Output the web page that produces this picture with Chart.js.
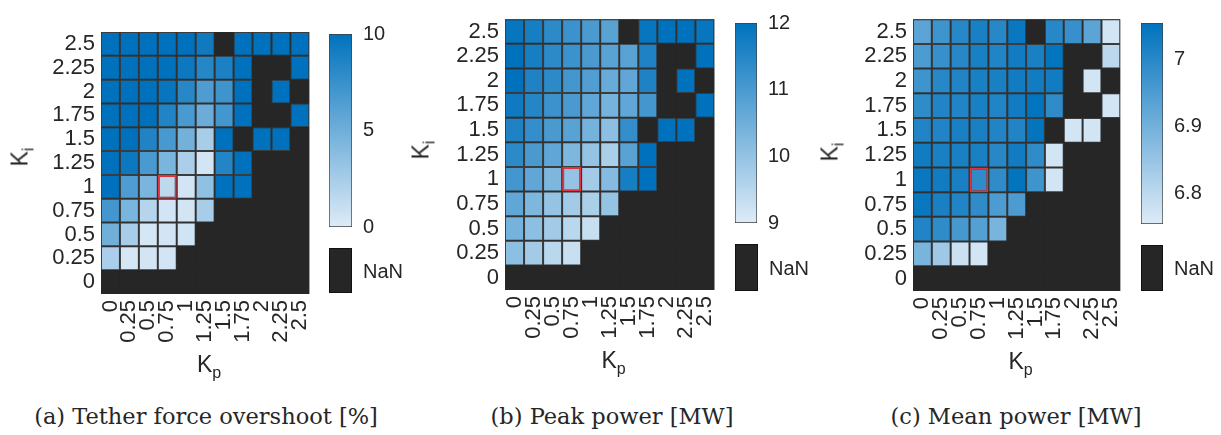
<!DOCTYPE html>
<html>
<head>
<meta charset="utf-8">
<script src="https://cdn.jsdelivr.net/npm/chart.js@4.4.0/dist/chart.umd.min.js"></script>
<style>
    body { margin: 0; background: #fff; width: 1221px; height: 435px; position: relative; overflow: hidden;
           font-family: "Liberation Sans", Arial, sans-serif; color: #262626; }
    canvas { position: absolute; }
    .lbl { position: absolute; font-size: 23px; line-height: 1; white-space: nowrap; }
    .lbl sub { font-size: 16px; line-height: 0; vertical-align: -6px; }
    .ki { transform: translate(-50%, -50%) rotate(-90deg); }
    .kp { transform: translateX(-50%); }
    .cap { position: absolute; font-family: "DejaVu Serif", serif; font-size: 22.5px; line-height: 1;
           white-space: nowrap; transform: translateX(-50%); }
    .nan { position: absolute; background: #262626; border: 1px solid #111; box-sizing: border-box; }
    .nanl { position: absolute; font-size: 20px; line-height: 1; transform: translateY(-50%); }
</style>
</head>
<body>
<script>
// grid axes
const kpLabels = ['0', '0.25', '0.5', '0.75', '1', '1.25', '1.5', '1.75', '2', '2.25', '2.5'];
const kiLabels = ['0', '0.25', '0.5', '0.75', '1', '1.25', '1.5', '1.75', '2', '2.25', '2.5'];

// rows go from Ki = 0 (first) up to Ki = 2.5 (last), null = NaN
const overshoot = [
    [null, null, null, null, null, null, null, null, null, null, null],
    [2.3, 0.4, 0.5, 0.5, null, null, null, null, null, null, null],
    [5, 2.5, 0.4, 0.5, 0.6, null, null, null, null, null, null],
    [7, 4.5, 1.8, 0.5, 0.5, 2.5, null, null, null, null, null],
    [10, 6.5, 4.5, 1.5, 0.5, 3.5, 10, 10, null, null, null],
    [10, 9.5, 6.7, 4.5, 2.3, 0.5, 8.4, 10, null, null, null],
    [10, 10, 8.6, 6.8, 4.8, 2.5, 10, null, 10, 10, null],
    [10, 10, 10, 8.5, 6.7, 5.2, 7, 10, null, null, 10],
    [10, 10, 10, 9.7, 8.2, 6.5, 7.2, 10, null, 10, null],
    [10, 10, 10, 10, 9.5, 8.3, 8.8, 10, null, null, 10],
    [10, 10, 10, 10, 10, 9.3, null, 10, 10, 10, 10]
];

const peakPower = [
    [null, null, null, null, null, null, null, null, null, null, null],
    [10.1, 9.8, 9.5, 9.3, null, null, null, null, null, null, null],
    [10.4, 10.1, 9.8, 9.5, 9.3, null, null, null, null, null, null],
    [10.7, 10.3, 10.0, 9.8, 9.7, 10.0, null, null, null, null, null],
    [11.1, 10.7, 10.3, 10.0, 9.8, 10.2, 11.7, 12, null, null, null],
    [11.4, 11.0, 10.7, 10.3, 10.0, 9.7, 10.8, 12, null, null, null],
    [11.6, 11.3, 11.0, 10.8, 10.4, 10.1, 11.3, null, 12, 12, null],
    [11.8, 11.5, 11.2, 11.0, 10.7, 10.4, 10.7, 11.1, null, null, 12],
    [12, 11.6, 11.4, 11.1, 10.9, 10.6, 10.7, 11.6, null, 12, null],
    [12, 11.7, 11.4, 11.2, 11.0, 10.8, 10.8, 11.6, null, null, 12],
    [11.9, 11.7, 11.4, 11.2, 11.0, 10.8, null, 11.9, 12, 12, 11.9]
];

const meanPower = [
    [null, null, null, null, null, null, null, null, null, null, null],
    [6.89, 6.84, 6.78, 6.77, null, null, null, null, null, null, null],
    [7.01, 6.99, 6.96, 6.94, 6.89, null, null, null, null, null, null],
    [7.04, 7.02, 7.01, 6.99, 6.95, 6.95, null, null, null, null, null],
    [7.04, 7.03, 7.02, 6.99, 6.99, 7.05, 6.97, 6.77, null, null, null],
    [7.03, 7.02, 7.02, 7.02, 7.0, 7.03, 6.99, 6.77, null, null, null],
    [7.01, 7.01, 7.02, 7.02, 7.01, 7.01, 7.05, null, 6.77, 6.77, null],
    [6.99, 7.01, 7.01, 7.02, 7.01, 7.03, 7.05, 6.99, null, null, 6.77],
    [6.97, 7.0, 7.01, 7.02, 7.02, 7.03, 7.03, 7.03, null, 6.77, null],
    [6.95, 6.98, 7.0, 7.02, 7.01, 7.03, 7.02, 7.05, null, null, 6.80],
    [6.93, 6.97, 7.0, 7.02, 7.0, 7.04, null, 7.0, 6.98, 6.93, 6.77]
];

// colour limits and colorbar ticks
const overshootRange = [0, 10];
const peakRange = [9, 12];
const meanRange = [6.754, 7.054];
const overshootTicks = [0, 5, 10];
const peakTicks = [9, 10, 11, 12];
const meanTicks = [6.8, 6.9, 7];

// marked cell
const markKp = '0.75';
const markKi = '1';

const LIGHT = [222, 235, 247];
const DARK = [0, 114, 189];
const NAN_COLOR = '#262626';
const EDGE = '#3c3c3c';
const RED = '#e3323c';
const TXT = '#262626';
const FONT = 'Liberation Sans';

const panels = [
    { values: overshoot, range: overshootRange, ticks: overshootTicks, caption: '(a) Tether force overshoot [%]',
      area: [101, 32, 317, 294], bar: [329, 34, 352, 230], nan: [329, 248, 352, 293], ki: [20, 157], capX: 206 },
    { values: peakPower, range: peakRange, ticks: peakTicks, caption: '(b) Peak power [MW]',
      area: [505, 16, 722, 290], bar: [735, 17, 757, 226], nan: [735, 244, 758, 291], ki: [421, 150], capX: 612 },
    { values: meanPower, range: meanRange, ticks: meanTicks, caption: '(c) Mean power [MW]',
      area: [913, 18, 1128, 291], bar: [1141, 20, 1163, 227], nan: [1141, 245, 1163, 291], ki: [830, 152], capX: 1016 }
];

function rgb(c) {
    return 'rgb(' + c.join(',') + ')';
}

function cellColor(v, lo, hi) {
    if (v === null) return NAN_COLOR;
    let t = (v - lo) / (hi - lo);
    t = Math.min(1, Math.max(0, t));
    return rgb(LIGHT.map((l, i) => Math.round(l + (DARK[i] - l) * t)));
}

function addEl(tag, cls, html, style) {
    const el = document.createElement(tag);
    if (cls) el.className = cls;
    if (html) el.innerHTML = html;
    Object.assign(el.style, style);
    document.body.appendChild(el);
    return el;
}

function addCanvas(left, top, w, h) {
    const c = document.createElement('canvas');
    c.width = w;
    c.height = h;
    c.style.left = left + 'px';
    c.style.top = top + 'px';
    document.body.appendChild(c);
    return c;
}

// dark backdrop under the cells so seams between NaN cells don't show
const nanBackdrop = {
    id: 'nanBackdrop',
    beforeDatasetsDraw(chart) {
        const a = chart.chartArea;
        chart.ctx.save();
        chart.ctx.fillStyle = NAN_COLOR;
        chart.ctx.fillRect(a.left, a.top, a.right - a.left, a.bottom - a.top);
        chart.ctx.restore();
    }
};

const Y_W = 70, X_H = 60, PAD_R = 16;

panels.forEach(function (p) {
    const [l, t, r, b] = p.area;
    const [lo, hi] = p.range;

    // heatmap: one floating bar per cell, one dataset per Ki row
    const hc = addCanvas(l - Y_W, 0, Y_W + (r - l) + PAD_R, b + X_H);
    const datasets = kiLabels.map(function (ki, row) {
        const marked = kpLabels.map(kp => kp === markKp && ki === markKi);
        return {
            data: kpLabels.map(() => [row, row + 1]),
            backgroundColor: p.values[row].map(v => cellColor(v, lo, hi)),
            borderColor: p.values[row].map((v, c) => marked[c] ? RED : EDGE),
            borderWidth: p.values[row].map((v, c) => marked[c] ? 2 : (v === null ? 0 : 1)),
            borderSkipped: false,
            inflateAmount: 0,
            barPercentage: 1,
            categoryPercentage: 1
        };
    });

    new Chart(hc, {
        type: 'bar',
        data: { labels: kpLabels, datasets: datasets },
        plugins: [nanBackdrop],
        options: {
            responsive: false,
            animation: false,
            events: [],
            layout: { padding: { top: t, right: PAD_R, bottom: 0, left: 0 } },
            plugins: { legend: { display: false }, tooltip: { enabled: false } },
            scales: {
                x: {
                    stacked: true,
                    grid: { display: false, drawTicks: false },
                    border: { display: false },
                    ticks: { autoSkip: false, minRotation: 90, maxRotation: 90, padding: 6,
                             color: TXT, font: { family: FONT, size: 22 } },
                    afterFit: s => { s.height = X_H; }
                },
                y: {
                    stacked: false,
                    min: 0,
                    max: kiLabels.length,
                    grid: { display: false, drawTicks: false },
                    border: { display: false },
                    afterBuildTicks: s => { s.ticks = kiLabels.map((k, i) => ({ value: i + 0.5 })); },
                    ticks: { autoSkip: false, padding: 6, color: TXT, font: { family: FONT, size: 22 },
                             callback: (v, i) => kiLabels[i] },
                    afterFit: s => { s.width = Y_W; }
                }
            }
        }
    });

    // colorbar
    const [bl, bt, br, bb] = p.bar;
    const cc = addCanvas(bl, 0, (br - bl) + 60, bb + 20);
    new Chart(cc, {
        type: 'bar',
        data: {
            labels: [''],
            datasets: [{
                data: [[lo, hi]],
                backgroundColor: function (ctx) {
                    const a = ctx.chart.chartArea;
                    if (!a) return rgb(LIGHT);
                    const g = ctx.chart.ctx.createLinearGradient(0, a.bottom, 0, a.top);
                    g.addColorStop(0, rgb(LIGHT));
                    g.addColorStop(1, rgb(DARK));
                    return g;
                },
                borderColor: '#404040',
                borderWidth: 1,
                borderSkipped: false,
                barPercentage: 1,
                categoryPercentage: 1
            }]
        },
        options: {
            responsive: false,
            animation: false,
            events: [],
            layout: { padding: { top: bt, right: 0, bottom: 20, left: 0 } },
            plugins: { legend: { display: false }, tooltip: { enabled: false } },
            scales: {
                x: { display: false },
                y: {
                    position: 'right',
                    min: lo,
                    max: hi,
                    grid: { display: false, drawTicks: false },
                    border: { display: false },
                    afterBuildTicks: s => { s.ticks = p.ticks.map(v => ({ value: v })); },
                    ticks: { padding: 11, color: TXT, font: { family: FONT, size: 20 },
                             callback: v => String(v) },
                    afterFit: s => { s.width = 60; }
                }
            }
        }
    });

    // NaN swatch
    const [nl, nt, nr, nb] = p.nan;
    addEl('div', 'nan', '', { left: nl + 'px', top: nt + 'px', width: (nr - nl) + 'px', height: (nb - nt) + 'px' });
    addEl('div', 'nanl', 'NaN', { left: (nr + 11) + 'px', top: ((nt + nb) / 2) + 'px' });

    // axis labels and caption
    addEl('div', 'lbl ki', 'K<sub>i</sub>', { left: p.ki[0] + 'px', top: p.ki[1] + 'px' });
    addEl('div', 'lbl kp', 'K<sub>p</sub>', { left: ((l + r) / 2) + 'px', top: (b + 59) + 'px' });
    addEl('div', 'cap', p.caption, { left: p.capX + 'px', top: '405px' });
});
</script>
</body>
</html>
